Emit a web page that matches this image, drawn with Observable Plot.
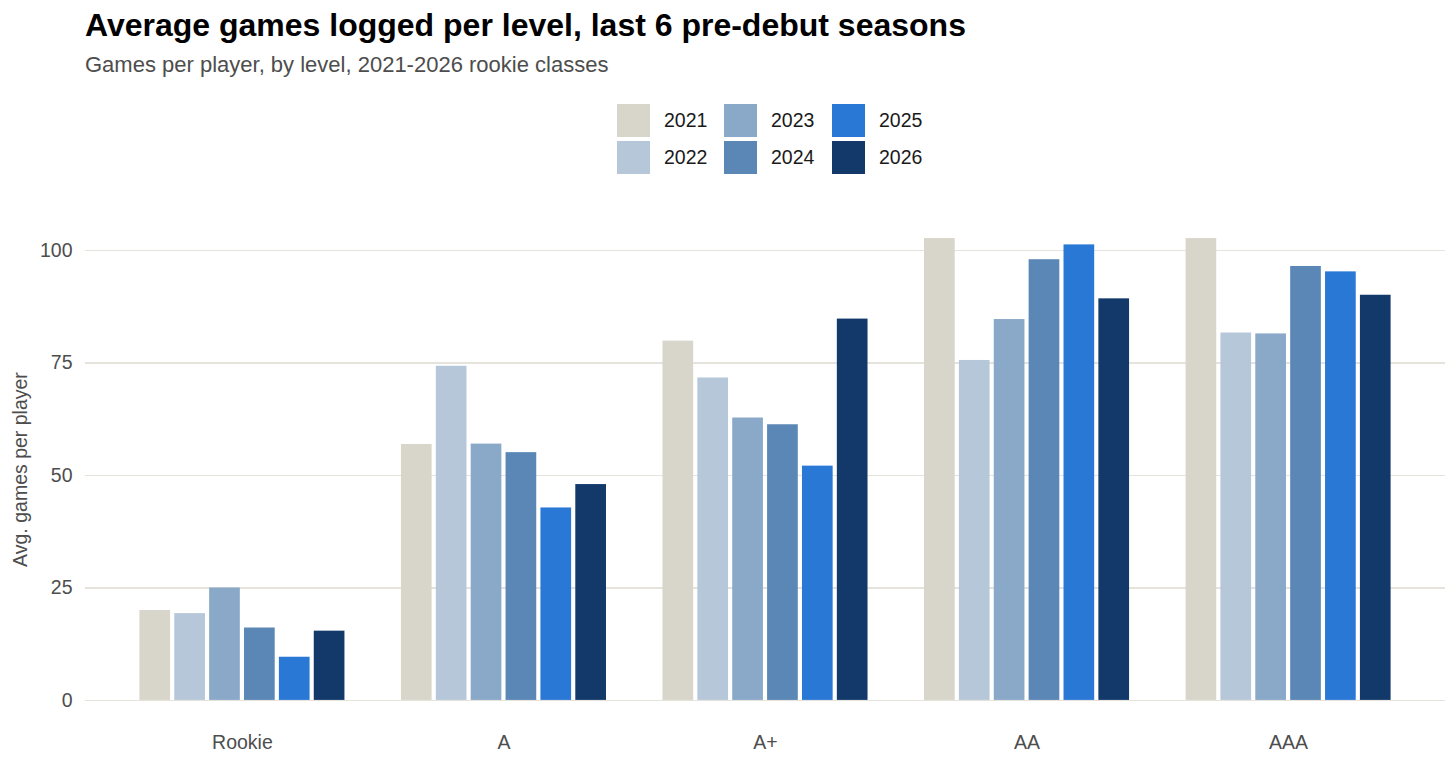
<!DOCTYPE html>
<html><head><meta charset="utf-8">
<script src="https://cdn.jsdelivr.net/npm/d3@7"></script>
<script src="https://cdn.jsdelivr.net/npm/@observablehq/plot@0.6"></script>
<style>
body{margin:0;background:#fff;font-family:"Liberation Sans",Arial,sans-serif;}
#wrap{position:relative;width:1456px;height:763px;overflow:hidden;background:#fff;}
#title{position:absolute;left:85px;top:7px;font-size:32px;font-weight:bold;color:#000;white-space:nowrap;}
#subtitle{position:absolute;left:85px;top:52px;font-size:22px;color:#4d4d4d;white-space:nowrap;}
.sw{position:absolute;width:33px;height:33px;}
.lab{position:absolute;font-size:19.5px;color:#1a1a1a;line-height:33px;height:33px;}
#chart{position:absolute;left:0;top:190px;}
</style></head><body>
<div id="wrap">
  <div id="title">Average games logged per level, last 6 pre-debut seasons</div>
  <div id="subtitle">Games per player, by level, 2021-2026 rookie classes</div>
  <div id="legend"></div>
  <div id="chart"></div>
</div>
<script>
const levels = ["Rookie", "A", "A+", "AA", "AAA"];
const years = ["2021", "2022", "2023", "2024", "2025", "2026"];
const colors = ["#d8d6ca", "#b6c7da", "#8aa8c8", "#5b87b6", "#2a78d6", "#13396b"];
const rookie = [20.0, 19.3, 25.0, 16.1, 9.6, 15.4];
const levelA = [56.9, 74.3, 57.0, 55.1, 42.8, 48.0];
const levelAPlus = [79.9, 71.7, 62.8, 61.3, 52.1, 84.8];
const levelAA = [102.7, 75.6, 84.7, 98.0, 101.3, 89.3];
const levelAAA = [102.7, 81.7, 81.5, 96.5, 95.3, 90.1];
const yTicks = [0, 25, 50, 75, 100];

const series = [rookie, levelA, levelAPlus, levelAA, levelAAA];
const rows = [];
levels.forEach((lv, i) => years.forEach((yr, j) => rows.push({level: lv, year: yr, value: series[i][j]})));

// legend (3 columns x 2 rows, column-major)
const legend = document.getElementById("legend");
const colX = [617, 724, 832];
const rowY = [104, 141];
years.forEach((yr, k) => {
  const c = Math.floor(k / 2), r = k % 2;
  const sw = document.createElement("div");
  sw.className = "sw";
  sw.style.left = colX[c] + "px";
  sw.style.top = rowY[r] + "px";
  sw.style.background = colors[k];
  legend.appendChild(sw);
  const lab = document.createElement("div");
  lab.className = "lab";
  lab.style.left = (colX[c] + 47) + "px";
  lab.style.top = rowY[r] + "px";
  lab.textContent = yr;
  legend.appendChild(lab);
});

const W = 1456, ML = 85, MR = 11, fxPad = 0.2;
const step = (W - ML - MR) / (levels.length - fxPad + 2 * fxPad);
const gap = step * fxPad;
const maxV = d3.max(rows, d => d.value);
const chart = Plot.plot({
  width: W,
  height: 573,
  marginLeft: ML,
  marginRight: MR,
  marginTop: 25,
  marginBottom: 40,
  style: {fontFamily: "Liberation Sans, Arial, sans-serif", fontSize: "19.5px", color: "#4d4d4d", background: "#fff"},
  fx: {domain: levels, paddingInner: fxPad, paddingOuter: fxPad, round: false, axis: "bottom", label: null, tickSize: 0, tickPadding: 12},
  x: {domain: years, paddingInner: 0.12, paddingOuter: 0.06, round: false, axis: null},
  y: {domain: [-maxV * 0.05, maxV * 1.05], ticks: yTicks, tickSize: 0, tickPadding: 13 + gap,
      label: "Avg. games per player", labelAnchor: "center", labelArrow: "none", labelOffset: 72 + gap, grid: false},
  color: {domain: years, range: colors},
  marks: [
    Plot.ruleY(yTicks, {stroke: "#e5e3db", strokeWidth: 1.4, shapeRendering: "crispEdges", insetLeft: -gap, insetRight: -gap}),
    Plot.barY(rows, {fx: "level", x: "year", y: "value", fill: "year"})
  ]
});
document.getElementById("chart").appendChild(chart);
</script>
</body></html>
